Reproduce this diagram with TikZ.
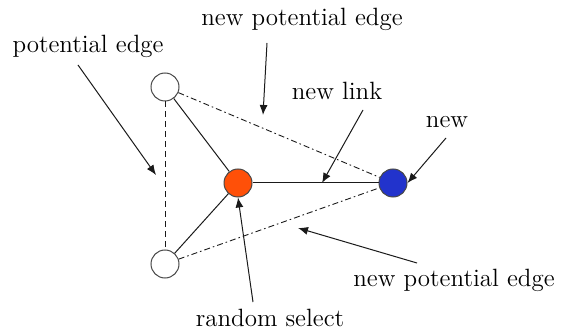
\documentclass[tikz,border=0pt]{standalone}
\usetikzlibrary{arrows.meta,positioning}
\definecolor{seedorange}{HTML}{FF5008}
\definecolor{newblue}{HTML}{2233CC}
\definecolor{ink}{HTML}{1A1A1A}
\tikzset{
  oldnode/.style={circle,draw=ink!80,fill=white,line width=0.5pt,
                  minimum size=14pt,inner sep=0pt},
  seednode/.style={oldnode,fill=seedorange},
  newnode/.style={oldnode,fill=newblue},
  linkedge/.style={draw=ink,line width=0.5pt},
  potedge/.style={draw=ink,line width=0.5pt,dash pattern=on 3pt off 2pt},
  newpotedge/.style={draw=ink,line width=0.45pt,
                     dash pattern=on 3pt off 1.5pt on 0.8pt off 1.5pt},
  lbl/.style={font=\fontsize{12.5}{15}\selectfont,inner sep=0pt},
  callout/.style={-{Latex[length=5pt,width=4pt]},line width=0.5pt,draw=ink}
}
\begin{document}
\begin{tikzpicture}[x=0.5pt,y=-0.5pt]
    \path[use as bounding box] (0,0) rectangle (567,331);
    % graph
    \node[oldnode] (top) at (165,87) {};
    \node[oldnode] (bot) at (165,264) {};
    \node[seednode] (seed) at (238,183) {};
    \node[newnode] (new) at (393,183) {};
    \draw[linkedge] (top) -- (seed);
    \draw[linkedge] (bot) -- (seed);
    \draw[linkedge] (seed) -- (new);
    \draw[potedge] (top) -- (bot);
    \draw[newpotedge] (top) -- (new);
    \draw[newpotedge] (bot) -- (new);
    % labels
    \node[lbl] (lpot) at (88,46) {potential edge};
    \node[lbl] (lnewtop) at (302,19) {new potential edge};
    \node[lbl] (llink) at (337,91) {new link};
    \node[lbl] (lnew) at (447,122) {new};
    \node[lbl] (lnewbot) at (454,280) {new potential edge};
    \node[lbl] (lrand) at (270,318) {random select};
    % arrow tips
    \coordinate (tpot) at (156,175);
    \coordinate (tnewtop) at (263,115);
    \coordinate (tlink) at (322,183);
    \coordinate (tnewbot) at (298,228);
    \draw[callout] (78,65) -- (tpot);
    \draw[callout] (267,43) -- (tnewtop);
    \draw[callout] (363,110) -- (tlink);
    \draw[callout] (446,138) -- (new.east);
    \draw[callout] (417,263) -- (tnewbot);
    \draw[callout] (253,302) -- (seed.south);
  \end{tikzpicture}
\end{document}
